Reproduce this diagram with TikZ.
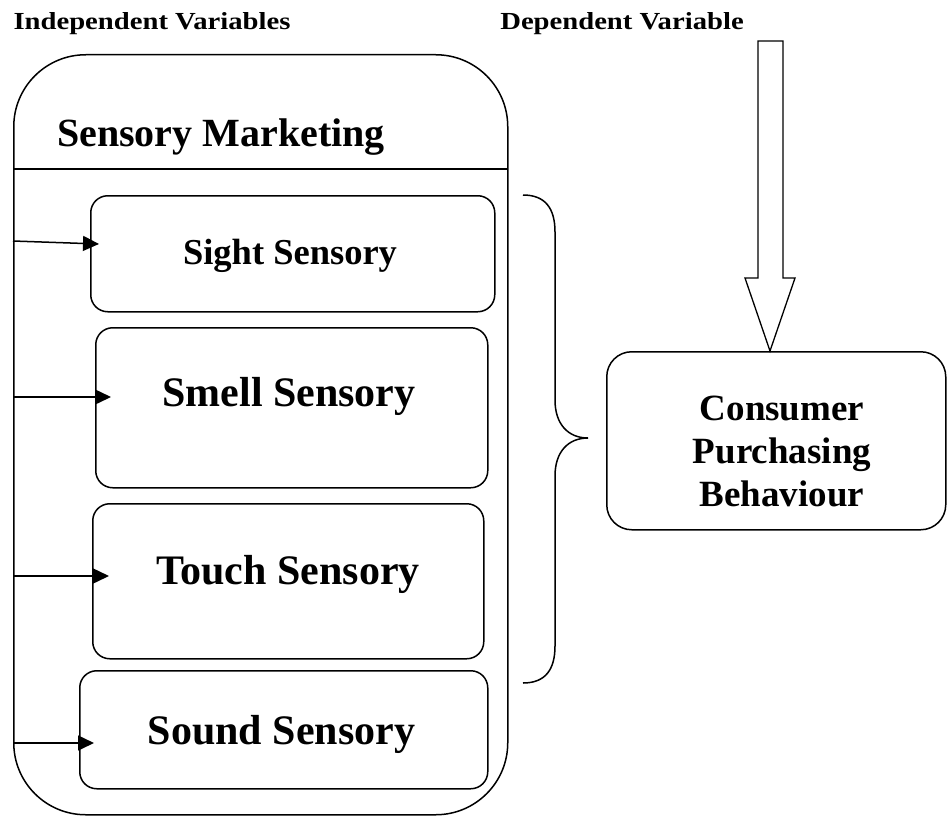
\documentclass[tikz,border=0pt]{standalone}
\usepackage{fontspec}
\setmainfont{Liberation Serif}
\newfontfamily\garfont[FakeStretch=1.17]{Liberation Serif}
\usetikzlibrary{arrows.meta}
\begin{document}
\begin{tikzpicture}[x=1pt,y=-1pt,
  line width=1.5pt,
  box/.style={draw, rounded corners=#1, inner sep=0pt},
  box/.default=17pt,
  lbl/.style={anchor=base, inner sep=0pt, font=\bfseries\fontsize{42}{46}\selectfont},
  hdr/.style={anchor=base, inner sep=0pt, font=\garfont\bfseries\fontsize{24.5}{28}\selectfont},
  arr/.style={-{Triangle[length=16pt,width=15pt]}, line width=1.5pt}]
\useasboundingbox (0,0) rectangle (947,816);
% headers
\node[hdr] (iv) at (152,30) {Independent Variables};
\node[hdr] (dv) at (622,30) {Dependent Variable};
% container
\node[box=72pt, anchor=north west, minimum width=494pt, minimum height=760pt] (sm) at (13,54) {};
\coordinate (sepL) at (13,169);
\coordinate (sepR) at (507,169);
\draw (sepL) -- (sepR);
\node[lbl, font=\bfseries\fontsize{40}{44}\selectfont] (smt) at (221,146) {Sensory Marketing};
% sensory boxes
\node[box, anchor=north west, minimum width=404pt, minimum height=116pt] (sight) at (90,195) {};
\node[box, anchor=north west, minimum width=392pt, minimum height=160pt] (smell) at (95,327) {};
\node[box, anchor=north west, minimum width=391pt, minimum height=155pt] (touch) at (92,503) {};
\node[box, anchor=north west, minimum width=408pt, minimum height=118pt] (sound) at (79,670) {};
\node[lbl, font=\bfseries\fontsize{36.5}{40}\selectfont] (sightt) at (290,264) {Sight Sensory};
\node[lbl] (smellt) at (289,406) {Smell Sensory};
\node[lbl] (toucht) at (288,584) {Touch Sensory};
\node[lbl] (soundt) at (281.5,744) {Sound Sensory};
% arrows into boxes
\coordinate (a1) at (13,241); \coordinate (b1) at (99,244);
\coordinate (a2) at (13,397); \coordinate (b2) at (111,397);
\coordinate (a3) at (13,576); \coordinate (b3) at (109,576);
\coordinate (a4) at (13,743); \coordinate (b4) at (94,743);
\draw[arr] (a1) -- (b1);
\draw[arr] (a2) -- (b2);
\draw[arr] (a3) -- (b3);
\draw[arr] (a4) -- (b4);
% brace
\coordinate (br1) at (523,195);
\coordinate (brc) at (588,438);
\coordinate (br2) at (523,683);
\draw (br1) .. controls (545,195) and (555,208) .. (555,232) -- (555,400)
      .. controls (555,424) and (568,438) .. (brc)
      .. controls (568,438) and (555,452) .. (555,476) -- (555,646)
      .. controls (555,670) and (545,683) .. (br2);
% consumer box
\node[box=25pt, anchor=north west, minimum width=339pt, minimum height=178pt] (cpb) at (606,351) {};
\node[anchor=center, inner sep=0pt, align=center, font=\bfseries\fontsize{37}{43}\selectfont] (cpbt) at (782,451) {Consumer\\Purchasing\\Behaviour};
% hollow arrow
\draw[line width=1.3pt, line join=miter] (758,41) -- (783,41) -- (783,278) -- (795,278) -- (cpb.north -| 770,0) -- (745,278) -- (758,278) -- cycle;
\end{tikzpicture}
\end{document}
